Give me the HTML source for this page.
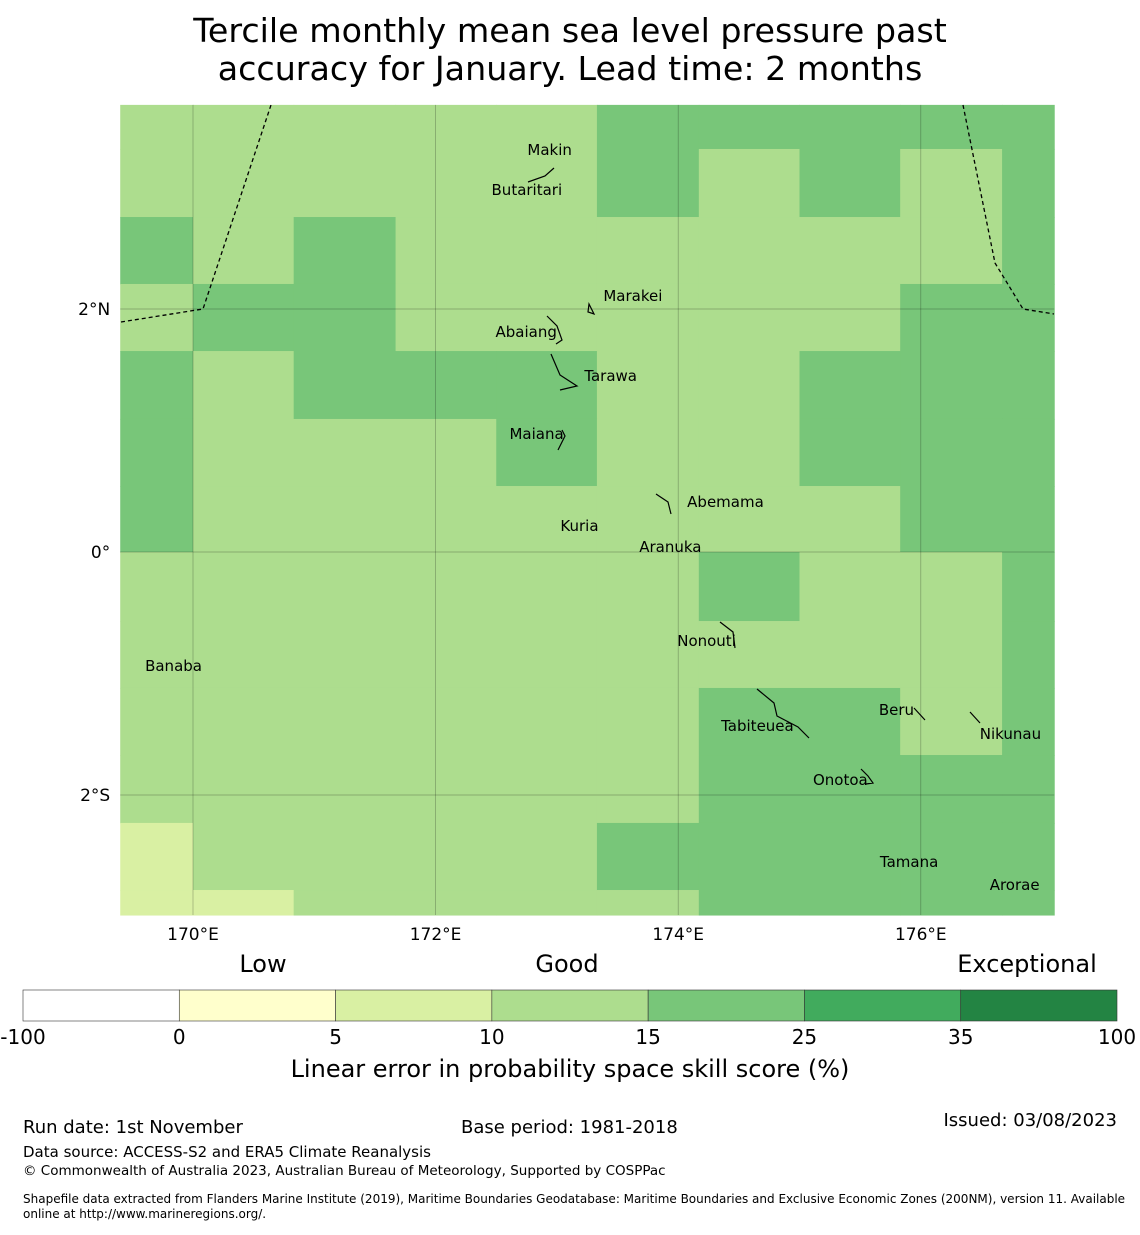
<!DOCTYPE html>
<html><head><meta charset="utf-8"><style>
body{margin:0;background:#fff;width:1140px;height:1230px;overflow:hidden}
text{font-family:"DejaVu Sans","Liberation Sans",sans-serif}
</style></head><body>
<svg width="1140" height="1230" xmlns="http://www.w3.org/2000/svg">
<text x="570" y="42" font-size="33.3" text-anchor="middle">Tercile monthly mean sea level pressure past</text>
<text x="570" y="80" font-size="33.3" text-anchor="middle">accuracy for January. Lead time: 2 months</text>
<g id="map"></g>
<g id="cbar"></g>
<text x="263" y="972" font-size="24" text-anchor="middle">Low</text>
<text x="567" y="972" font-size="24" text-anchor="middle">Good</text>
<text x="1027" y="972" font-size="24" text-anchor="middle">Exceptional</text>
<text x="570" y="1077" font-size="24" text-anchor="middle">Linear error in probability space skill score (%)</text>
<text x="23" y="1133" font-size="18">Run date: 1st November</text>
<text x="461" y="1133" font-size="18">Base period: 1981-2018</text>
<text x="1117" y="1126" font-size="18" text-anchor="end">Issued: 03/08/2023</text>
<text x="23" y="1157" font-size="15">Data source: ACCESS-S2 and ERA5 Climate Reanalysis</text>
<text x="23" y="1175" font-size="13.5">© Commonwealth of Australia 2023, Australian Bureau of Meteorology, Supported by COSPPac</text>
<text x="23" y="1203" font-size="12">Shapefile data extracted from Flanders Marine Institute (2019), Maritime Boundaries Geodatabase: Maritime Boundaries and Exclusive Economic Zones (200NM), version 11. Available</text>
<text x="23" y="1218" font-size="12">online at http://www.marineregions.org/.</text>
</svg>
<script>
const colEdges=[169.4,170.0,170.83,171.67,172.5,173.33,174.17,175.0,175.83,176.67,177.1];
const rowEdges=[3.68,3.317,2.757,2.206,1.654,1.095,0.543,0,-0.568,-1.119,-1.671,-2.230,-2.782,-2.988];
const skill=[
[12,12,12,12,12,20,20,20,20,20],
[12,12,12,12,12,20,12,20,12,20],
[20,12,20,12,12,12,12,12,12,20],
[12,20,20,12,12,12,12,12,20,20],
[20,12,20,20,20,12,12,20,20,20],
[20,12,12,12,20,12,12,20,20,20],
[20,12,12,12,12,12,12,12,20,20],
[12,12,12,12,12,12,20,12,12,20],
[12,12,12,12,12,12,12,12,12,20],
[12,12,12,12,12,12,20,20,12,20],
[12,12,12,12,12,12,20,20,20,20],
[7,12,12,12,12,20,20,20,20,20],
[7,7,12,12,12,12,20,20,20,20]];
const cbBounds=[-100,0,5,10,15,25,35,100];
const cbColors=["#ffffff","#ffffcc","#d9f0a3","#addd8e","#78c679","#41ab5d","#238443"];
const lonTicks=[170,172,174,176], latTicks=[2,0,-2];
const islandNames=["Makin","Butaritari","Marakei","Abaiang","Tarawa","Maiana","Abemama","Kuria","Aranuka","Nonouti","Banaba","Tabiteuea","Beru","Nikunau","Onotoa","Tamana","Arorae"];
const islandLon=[172.757,172.461,173.383,172.494,173.226,172.609,174.074,173.029,173.679,173.992,169.605,174.354,175.654,176.486,175.111,175.663,176.568];
const islandLat=[3.309,2.979,2.107,1.811,1.449,0.971,0.412,0.214,0.041,-0.733,-0.938,-1.432,-1.300,-1.498,-1.877,-2.551,-2.741];
const X=l=>193+(l-170)*121.3, Y=a=>552-a*121.5;
const NS="http://www.w3.org/2000/svg";
function mk(t,at,p){const e=document.createElementNS(NS,t);for(const k in at)e.setAttribute(k,at[k]);p.appendChild(e);return e;}
const map=document.getElementById('map');
function col(v){for(let i=0;i<cbColors.length;i++)if(v<cbBounds[i+1])return cbColors[i];return cbColors[6];}
for(let r=0;r<skill.length;r++)for(let c=0;c<skill[r].length;c++){
 const x0=X(colEdges[c]),x1=X(colEdges[c+1]),y0=Y(rowEdges[r]),y1=Y(rowEdges[r+1]);
 const e=mk('rect',{x:x0,y:y0,width:x1-x0+0.5,height:y1-y0+0.5,fill:col(skill[r][c])},map);
 
 
}
const x0=X(colEdges[0]),x1=X(colEdges[colEdges.length-1]),yt=Y(rowEdges[0]),yb=Y(rowEdges[rowEdges.length-1]);
lonTicks.forEach(l=>{const g=mk('line',{x1:X(l),x2:X(l),y1:yt,y2:yb,stroke:'#000','stroke-opacity':0.3,'stroke-width':0.7},map);
 
 const t=mk('text',{x:X(l),y:yb+25,'font-size':17,'text-anchor':'middle'},map);t.textContent=l+'°E';
 });
latTicks.forEach(a=>{const g=mk('line',{x1:x0,x2:x1,y1:Y(a),y2:Y(a),stroke:'#000','stroke-opacity':0.3,'stroke-width':0.7},map);
 
 const t=mk('text',{x:x0-10,y:Y(a)+6,'font-size':17,'text-anchor':'end'},map);t.textContent=a==0?'0°':Math.abs(a)+'°'+(a>0?'N':'S');
 });
let b=mk('path',{d:'M121,322 L203,309 L271,105 M963,105 L995,263 L1023,309 L1054,314',fill:'none',stroke:'#000','stroke-width':1.3,'stroke-dasharray':'4,3'},map);

let isl=mk('path',{d:'M528,182 L545,176 L554,168 M547,316 L557,326 L562,340 L556,344 M551,354 L560,375 L577,386 L560,390 M562,430 L565,436 L558,450 M589,304 L594,314 L588,312 Z M656,494 L668,502 L671,514 M720,622 L733,632 L735,648 M757,689 L774,703 L777,716 L798,727 L809,738 M914,708 L925,720 M970,712 L980,723 M861,769 L868,776 L873,783 L866,784',fill:'none',stroke:'#000','stroke-width':1.2},map);

islandNames.forEach((n,i)=>{const t=mk('text',{x:X(islandLon[i]),y:Y(islandLat[i])+5,'font-size':15,'text-anchor':'start'},map);t.textContent=n;
 });
const cb=document.getElementById('cbar');const w=(1117-23)/7;
cbColors.forEach((c,i)=>{const r=mk('rect',{x:23+i*w,y:990,width:w,height:31,fill:c,stroke:'#333','stroke-width':0.6},cb);
 });
cbBounds.forEach((v,i)=>{const t=mk('text',{x:23+i*w,y:1044,'font-size':20,'text-anchor':'middle'},cb);t.textContent=v;
 });
</script>
</body></html>
